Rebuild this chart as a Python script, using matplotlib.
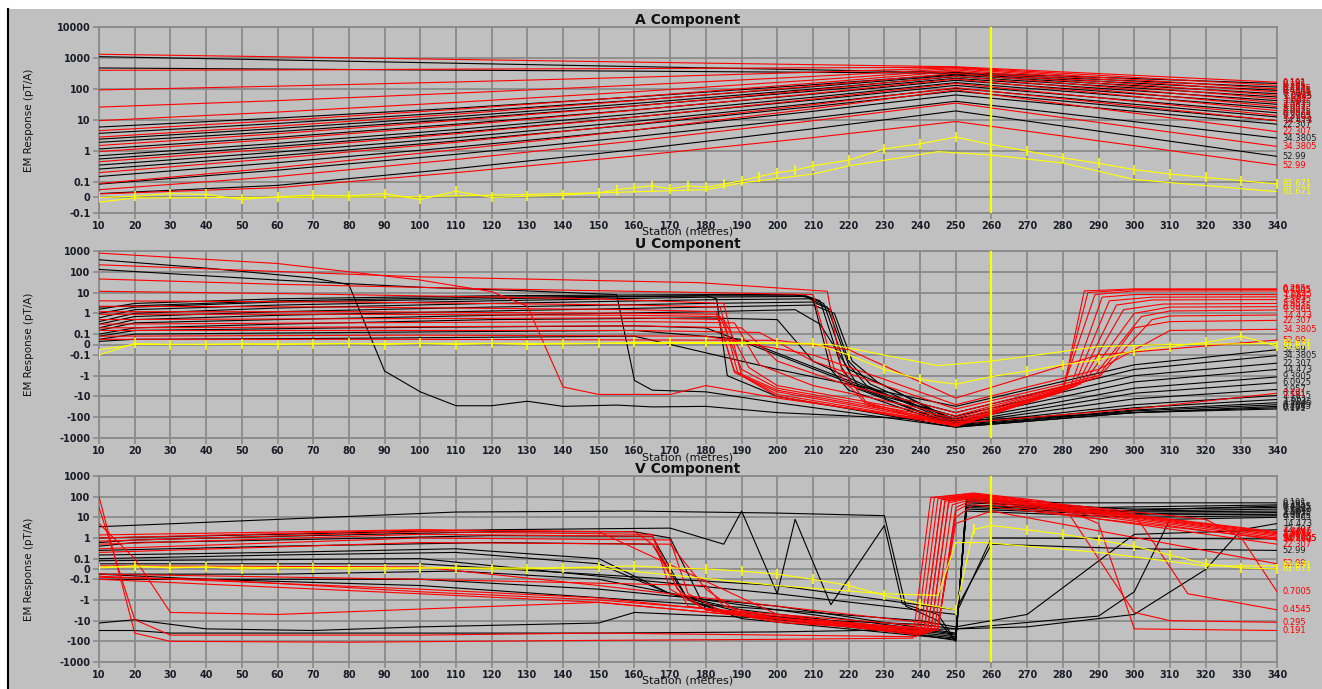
import matplotlib
matplotlib.use('Agg')
import matplotlib.pyplot as plt
from matplotlib.ticker import FixedLocator, NullLocator
from matplotlib.lines import Line2D
from matplotlib.patches import Rectangle

plt.rcParams['font.family'] = ['DejaVu Sans']

# channel names (shown at the right end of each line)
CH = ['0.191', '0.295', '0.4545', '0.7005', '1.0845', '1.661', '2.5815', '3.957',
      '6.0925', '9.3905', '14.473', '22.307', '34.3805', '52.99']
LAST_CH = '81.671'

# ---------------- A component ----------------
A_X = [10, 60, 110, 160, 210, 250, 300, 340]
A_RED = [
    [1316, 1090, 895, 735, 607, 520, 275, 165],
    [400, 410, 435, 455, 480, 500, 237, 130],
    [93, 123, 168, 237, 346, 480, 201, 100],
    [26, 42, 73, 132, 254, 450, 172, 80],
    [9.5, 18, 37, 81, 193, 410, 143, 62],
    [4.5, 9.5, 22, 56, 153, 370, 119, 48],
    [2.8, 6.3, 15.4, 42, 124, 320, 95, 36],
    [1.5, 3.6, 9.6, 28, 93, 260, 74, 27],
    [0.95, 2.4, 6.6, 20.6, 71, 210, 57, 20],
    [0.45, 1.2, 3.6, 12.3, 47, 150, 40, 14],
    [0.2, 0.58, 1.9, 7.3, 31, 110, 28, 9.5],
    [0.09, 0.29, 1.1, 4.7, 23, 93, 16.6, 4.2],
    [0.05, 0.15, 0.53, 2.1, 9.4, 35, 5.8, 1.4],
    [0.023, 0.063, 0.2, 0.69, 2.7, 8.9, 1.48, 0.35],
]
A_BLACK = [
    [1100, 864, 674, 528, 413, 340, 216, 150],
    [475, 437, 403, 375, 345, 320, 181, 115],
    [5.9, 11.5, 24, 55, 137, 300, 154, 90],
    [3.7, 7.7, 17.6, 43, 118, 280, 129, 70],
    [2.4, 5.3, 12.8, 34, 99, 250, 108, 55],
    [1.9, 4.2, 10.5, 28.5, 85, 220, 88, 42],
    [1.16, 2.75, 7.3, 21, 68, 190, 70, 32],
    [0.7, 1.76, 4.9, 15.5, 54, 160, 56, 24],
    [0.55, 1.4, 3.9, 12.4, 44, 130, 42, 17],
    [0.35, 0.92, 2.7, 9.0, 34, 105, 32, 12.5],
    [0.26, 0.7, 2.1, 7.0, 27, 85, 25, 9.5],
    [0.15, 0.42, 1.33, 4.7, 19, 64, 19, 7.3],
    [0.086, 0.24, 0.78, 2.9, 11.7, 40, 8.8, 2.6],
    [0.025, 0.078, 0.27, 1.1, 5.2, 19.5, 3.0, 0.67],
]
A_YEL_RED_X = [10, 20, 50, 100, 150, 180, 190, 210, 220, 230, 245, 260, 270, 280, 300, 340]
A_YEL_RED = [-0.03, -0.003, 0.0, 0.005, 0.03, 0.05, 0.094, 0.18, 0.33, 0.5, 0.95, 0.74, 0.55,
             0.41, 0.12, 0.0375]
A_YEL_BLK_X = [10, 20, 30, 40, 50, 60, 70, 80, 90, 100, 110, 120, 130, 140, 150, 155, 160,
               165, 170, 175, 180, 185, 190, 195, 200, 205, 210, 220, 230, 240, 250, 260, 270,
               280, 290, 300, 310, 320, 330, 340]
A_YEL_BLK = [0.0, 0.008, 0.025, 0.02, -0.013, 0.005, 0.015, 0.01, 0.025, -0.013, 0.04, 0.0,
             0.008, 0.015, 0.03, 0.05, 0.064, 0.075, 0.056, 0.075, 0.065, 0.087, 0.11, 0.15,
             0.2, 0.24, 0.33, 0.51, 1.16, 1.7, 2.8, 1.6, 1.0, 0.6, 0.4, 0.25, 0.18, 0.14,
             0.11, 0.087]

# ---------------- U component ----------------
U_RED_X = [
    [10, 60, 100, 120, 130, 140, 150, 170, 180, 200, 250, 300, 340],
    [10, 100, 178, 214, 218, 225, 250, 280, 286, 300, 340],
    [10, 60, 120, 180, 210, 216, 225, 250, 280, 287, 300, 340],
    [10, 60, 150, 185, 190, 200, 250, 280, 289, 300, 340],
    [10, 80, 160, 184, 189, 200, 250, 282, 291, 300, 340],
    [10, 80, 160, 183, 188, 200, 250, 283, 293, 305, 340],
    [10, 80, 160, 183, 188, 200, 250, 284, 295, 305, 340],
    [10, 80, 160, 184, 190, 200, 250, 285, 297, 308, 340],
    [10, 80, 160, 185, 192, 200, 250, 286, 300, 310, 340],
    [10, 80, 160, 188, 195, 210, 250, 288, 302, 310, 340],
    [10, 80, 160, 190, 200, 220, 250, 290, 305, 310, 340],
    [10, 80, 160, 195, 210, 230, 250, 290, 300, 310, 340],
    [10, 100, 180, 210, 230, 250, 290, 310, 340],
    [10, 100, 200, 220, 250, 290, 340],
]
U_RED_Y = [
    [790, 250, 40, 11, 2.2, -3.5, -8, -8, -3, -12, -200, -40, -7],
    [217, 57, 30, 11.5, -0.5, -20, -250, -6, 12, 15, 15],
    [45, 25, 15, 10, 8, -0.5, -25, -280, -5, 10, 14, 14],
    [11.5, 9, 5, 3, -1, -10, -260, -4, 8, 12, 12],
    [4, 3.5, 2.5, 2, -0.8, -8, -230, -4, 6, 8, 8],
    [2.2, 2, 1.5, 1.2, -0.7, -6, -200, -3.5, 4, 6, 6.2],
    [1.2, 1.2, 1, 0.9, -0.6, -5, -170, -3, 2.5, 4.4, 4.6],
    [0.9, 0.9, 0.8, 0.7, -0.5, -4, -140, -2.5, 1.5, 2.8, 3.0],
    [0.5, 0.55, 0.6, 0.5, -0.4, -3, -110, -2, 1, 2, 2.1],
    [0.3, 0.35, 0.4, 0.35, -0.3, -3, -85, -1.5, 0.7, 1.3, 1.45],
    [0.2, 0.22, 0.25, 0.2, -0.2, -3, -60, -1.2, 0.5, 0.75, 0.83],
    [0.15, 0.15, 0.15, 0.12, -0.2, -3, -40, -1, 0.2, 0.4, 0.46],
    [0.08, 0.09, 0.08, -0.1, -1.5, -25, -0.5, 0.15, 0.17],
    [0.05, 0.05, 0.04, -0.05, -12, -0.1, 0.043],
]
U_BLK_X = [
    [10, 40, 70, 80, 90, 100, 110, 120, 130, 140, 155, 165, 180, 200, 250, 300, 340],
    [10, 60, 100, 130, 155, 160, 165, 180, 200, 250, 300, 340],
    [10, 60, 120, 180, 183, 186, 200, 250, 300, 340],
    [10, 20, 60, 120, 180, 205, 210, 215, 220, 250, 300, 340],
    [10, 20, 60, 120, 180, 208, 212, 218, 222, 250, 300, 340],
    [10, 20, 60, 120, 180, 208, 213, 219, 223, 250, 300, 340],
    [10, 20, 60, 120, 180, 209, 214, 220, 225, 250, 300, 340],
    [10, 20, 60, 120, 180, 210, 215, 220, 226, 250, 300, 340],
    [10, 20, 60, 120, 180, 210, 216, 221, 228, 250, 300, 340],
    [10, 20, 60, 120, 180, 205, 212, 220, 230, 250, 300, 340],
    [10, 20, 60, 120, 180, 200, 210, 230, 250, 300, 340],
    [10, 20, 80, 160, 180, 200, 230, 250, 300, 340],
    [10, 20, 80, 160, 190, 230, 250, 300, 340],
    [10, 20, 80, 160, 200, 250, 300, 340],
]
U_BLK_Y = [
    [380, 150, 50, 24, -0.6, -6, -28, -28, -17, -30, -26, -32, -30, -60, -150, -60, -40],
    [130, 40, 18, 12, 8, -1.7, -5, -6, -20, -300, -60, -35],
    [2.0, 4, 6, 7, 5, -1, -10, -300, -60, -30],
    [1.56, 3, 5, 7, 8, 8, 5, -0.5, -5, -280, -50, -25],
    [1.0, 2.0, 3.5, 5, 7, 7, 4, -0.4, -4, -260, -45, -20],
    [0.6, 1.5, 2.5, 4, 6, 6.5, 3, -0.3, -4, -240, -35, -14],
    [0.4, 1.0, 1.8, 3, 4.5, 5, 2, -0.3, -3, -220, -25, -9],
    [0.3, 0.7, 1.2, 2, 3, 3.5, 1.5, -0.2, -2.5, -200, -13, -4.6],
    [0.2, 0.5, 0.8, 1.3, 2, 2.5, 1, -0.2, -2, -180, -7, -2.2],
    [0.15, 0.35, 0.5, 0.8, 1.2, 1.5, 0.3, -0.5, -3, -150, -4, -1.15],
    [0.1, 0.2, 0.3, 0.5, 0.6, 0.5, -0.2, -8, -120, -2, -0.5],
    [0.08, 0.15, 0.2, 0.25, 0.2, -0.1, -10, -90, -1, -0.25],
    [0.05, 0.1, 0.12, 0.15, 0.05, -8, -60, -0.5, -0.108],
    [0.03, 0.05, 0.06, 0.08, -0.5, -30, -0.3, -0.05],
]
U_YEL_RED_X = [10, 20, 100, 200, 215, 245, 260, 290, 310, 340]
U_YEL_RED = [-0.05, 0.0, 0.01, 0.01, 0.0, -0.33, -0.2, -0.02, 0.0, 0.01]
U_YEL_BLK_X = [10, 20, 30, 40, 50, 60, 70, 80, 90, 100, 110, 120, 130, 140, 150, 160, 170,
               180, 190, 200, 210, 220, 230, 240, 250, 260, 270, 280, 290, 300, 310, 320, 330, 340]
U_YEL_BLK = [-0.1, 0.01, 0.0, 0.0, 0.005, 0.0, 0.005, 0.01, 0.0, 0.01, 0.0, 0.01, 0.0, 0.005,
             0.01, 0.02, 0.02, 0.02, 0.02, 0.015, 0.01, -0.1, -0.5, -1.5, -2.6, -1.1, -0.6,
             -0.3, -0.17, -0.06, -0.02, 0.02, 0.08, -0.015]

# ---------------- V component ----------------
V_RED_X = [
    [10, 20, 30, 80, 150, 200, 238, 243, 255, 275, 290, 300, 340],
    [10, 20, 30, 100, 150, 200, 239, 244, 255, 280, 300, 310, 340],
    [10, 20, 30, 60, 150, 200, 240, 245, 255, 300, 315, 340],
    [10, 100, 150, 200, 241, 246, 255, 320, 330, 340],
    [10, 100, 160, 165, 175, 200, 241, 246, 255, 340],
    [10, 100, 165, 170, 180, 200, 242, 247, 255, 340],
    [10, 100, 165, 172, 180, 200, 242, 247, 255, 340],
    [10, 100, 170, 175, 185, 200, 243, 248, 255, 340],
    [10, 100, 170, 180, 190, 243, 248, 255, 340],
    [10, 100, 180, 185, 200, 244, 249, 255, 340],
    [10, 100, 150, 200, 245, 250, 255, 340],
    [10, 100, 150, 200, 245, 250, 255, 340],
    [10, 40, 100, 150, 200, 245, 250, 255, 340],
    [10, 100, 150, 200, 245, 250, 260, 340],
]
V_RED_Y = [
    [100, -40, -100, -110, -90, -80, -70, 90, 150, 60, 5, -25, -30],
    [30, -9, -50, -50, -40, -50, -60, 90, 140, 40, -4, -10, -12],
    [5, 0.1, -4, -5, -1.3, -8, -50, 80, 130, 15, -0.5, -3],
    [1.4, 2.5, 2.0, -5, -45, 80, 120, 8, 1, -0.4],
    [1.0, 2.4, 2, 0.5, -2, -8, -45, 70, 110, 2.0],
    [0.7, 2.0, 1.5, -0.3, -3, -8, -40, 70, 105, 1.8],
    [0.5, 1.5, 1.2, -0.3, -3, -10, -40, 60, 100, 1.6],
    [0.3, 1.0, 0.8, -0.5, -4, -12, -35, 60, 95, 1.4],
    [0.2, 0.6, 0.5, -0.3, -5, -35, 50, 90, 1.2],
    [-0.05, -0.1, -0.2, -2, -8, -30, 40, 80, 1.0],
    [-0.07, -0.3, -0.8, -6, -30, 30, 70, 0.8],
    [-0.1, -0.5, -1.3, -8, -25, 20, 60, 0.5],
    [-0.08, -0.1, -0.4, -1, -5, -20, 10, 40, 0.9],
    [0.03, 0.02, -0.2, -2, -15, 5, 20, 0.05],
]
V_BLK_X = [
    [10, 110, 160, 200, 230, 236, 245, 250, 253, 280, 340],
    [10, 60, 120, 170, 185, 190, 200, 205, 215, 230, 235, 245, 250, 253, 290, 340],
    [10, 20, 60, 120, 160, 170, 180, 190, 195, 210, 250, 253, 290, 340],
    [10, 20, 60, 120, 165, 175, 190, 250, 253, 300, 340],
    [10, 60, 120, 165, 175, 190, 250, 253, 300, 340],
    [10, 60, 110, 150, 170, 190, 250, 253, 300, 340],
    [10, 60, 110, 150, 170, 190, 250, 253, 300, 340],
    [10, 60, 110, 150, 180, 200, 250, 253, 300, 340],
    [10, 100, 150, 200, 250, 253, 300, 340],
    [10, 20, 40, 70, 100, 150, 160, 200, 240, 250, 290, 300, 310, 340],
    [10, 20, 30, 70, 150, 200, 250, 270, 300, 320, 330, 340],
    [10, 40, 100, 200, 240, 250, 270, 300, 340],
    [10, 100, 200, 250, 260, 340],
    [10, 100, 200, 250, 260, 300, 340],
]
V_BLK_Y = [
    [3.5, 18, 20, 16, 12, -2, -10, -100, 80, 50, 50],
    [1.0, 1.5, 2.5, 3, 0.5, 20, -0.5, 8, -1.7, 4, -1.5, -5, -100, 70, 30, 40],
    [0.6, 0.8, 1.2, 2, 2, 1, -3, -5, -6, -8, -90, 60, 20, 35],
    [0.4, 0.6, 0.8, 1.3, 1.2, -1, -8, -80, 50, 25, 30],
    [0.25, 0.4, 0.6, 0.5, -1, -6, -70, 40, 20, 25],
    [0.15, 0.2, 0.3, 0.1, -0.5, -4, -60, 35, 18, 20],
    [0.1, 0.15, 0.2, 0.05, -0.5, -3, -50, 30, 15, 17],
    [-0.05, -0.05, -0.02, -0.1, -1, -3, -45, 25, 13, 14],
    [-0.1, -0.1, -0.3, -2, -40, 20, 10, 12],
    [-13, -9, -25, -30, -20, -13, -4, -8, -15, -25, -6, -0.4, 8, 10],
    [-30, -30, -40, -40, -40, -35, -25, -20, -5, -0.005, 2.5, 5],
    [-0.05, -0.1, -0.2, -3, -10, -20, -5, 1.5, 2.5],
    [0.08, 0.1, -0.5, -5, 1, 0.9],
    [0.05, 0.05, -0.2, -3, 0.5, 0.3, 0.25],
]
V_YEL_RED_X = [10, 20, 100, 150, 200, 230, 245, 250, 258, 290, 320, 340]
V_YEL_RED = [0.02, 0.02, 0.01, 0.01, -0.2, -0.5, -0.6, 0.6, 0.6, 0.2, 0.03, 0.03]
V_YEL_BLK_X = [10, 20, 30, 40, 50, 60, 70, 80, 90, 100, 110, 120, 130, 140, 150, 160, 170,
               180, 190, 200, 210, 220, 230, 240, 250, 255, 260, 270, 280, 290, 300, 310,
               320, 330, 340]
V_YEL_BLK = [0.01, 0.03, 0.01, 0.02, 0.0, 0.01, 0.01, 0.0, 0.0, 0.01, 0.01, 0.0, 0.0, 0.01,
             0.02, 0.03, 0.01, 0.0, -0.02, -0.05, -0.1, -0.2, -0.6, -1.5, -3, 2.6, 4, 2.5,
             1.5, 0.8, 0.4, 0.15, 0.05, 0.01, 0.0]

A_TICKS = [-0.1, 0, 0.1, 1, 10, 100, 1000, 10000]
A_TICKLABELS = ['-0.1', '0', '0.1', '1', '10', '100', '1000', '10000']
UV_TICKS = [-1000, -100, -10, -1, -0.1, 0, 0.1, 1, 10, 100, 1000]
UV_TICKLABELS = ['-1000', '-100', '-10', '-1', '-0.1', '0', '0.1', '1', '10', '100', '1000']
STATIONS = list(range(10, 341, 10))
CURSOR = 260

BG = '#c0c0c0'
GRID = '#8a8a8a'
RED = '#ff0000'
BLK = '#000000'
YEL = '#ffff00'


def draw_lines(ax, xs, ys, color, names, label_color):
    for x, y, name in zip(xs, ys, names):
        ax.plot(x, y, color=color, lw=0.8, zorder=3)
        ax.text(341.6, y[-1], name, color=label_color, fontsize=6, va='center',
                ha='left', clip_on=False)


def setup(ax, title, ticks, labels, ylim):
    ax.set_facecolor(BG)
    ax.set_yscale('symlog', linthresh=0.1, linscale=0.45)
    ax.set_ylim(*ylim)
    ax.set_xlim(10, 340)
    ax.yaxis.set_major_locator(FixedLocator(ticks))
    ax.yaxis.set_minor_locator(NullLocator())
    ax.set_yticklabels(labels)
    ax.set_xticks(STATIONS)
    ax.set_xticklabels([str(s) for s in STATIONS])
    ax.grid(True, color=GRID, lw=1.3, zorder=0)
    ax.set_axisbelow(True)
    for s in ax.spines.values():
        s.set_color(GRID)
        s.set_linewidth(1.3)
    ax.tick_params(axis='both', length=4, width=1.2, color=GRID, pad=2,
                   labelsize=7, labelcolor='#1c1c28')
    for t in ax.get_xticklabels() + ax.get_yticklabels():
        t.set_fontweight('bold')
    ax.set_title(title, fontsize=10, fontweight='bold', pad=2, color='#111111')
    ax.set_ylabel('EM Response (pT/A)', fontsize=7.5, color='#111111')
    ax.yaxis.set_label_coords(-0.055, 0.5)
    ax.set_xlabel('Station (metres)', fontsize=8, color='#111111')
    ax.xaxis.set_label_coords(0.5, -0.075)
    ax.axvline(CURSOR, color=YEL, lw=1.6, zorder=5)


fig = plt.figure(figsize=(13.22, 6.89), dpi=100, facecolor=BG)
fig.add_artist(Rectangle((0, 1 - 9 / 689), 1, 9 / 689, transform=fig.transFigure,
                         facecolor='white', edgecolor='none'))
fig.add_artist(Rectangle((0, 0), 7 / 1322, 1, transform=fig.transFigure,
                         facecolor='white', edgecolor='none'))
fig.add_artist(Line2D([7.5 / 1322, 7.5 / 1322], [0, 1 - 9 / 689], transform=fig.transFigure,
                      color='black', lw=1.5))

ax_a = fig.add_axes([0.0749, 0.6909, 0.8911, 0.2700])
ax_u = fig.add_axes([0.0749, 0.3643, 0.8911, 0.2714])
ax_v = fig.add_axes([0.0749, 0.0392, 0.8911, 0.2700])

# A component
setup(ax_a, 'A Component', A_TICKS, A_TICKLABELS, (-0.1, 10000))
draw_lines(ax_a, [A_X] * len(A_BLACK), A_BLACK, BLK, CH, '#202020')
draw_lines(ax_a, [A_X] * len(A_RED), A_RED, RED, CH, RED)
draw_lines(ax_a, [A_YEL_RED_X], [A_YEL_RED], YEL, [LAST_CH], YEL)
ax_a.plot(A_YEL_BLK_X, A_YEL_BLK, color=YEL, lw=0.8, marker='|', ms=7, mew=1.2, zorder=4)
ax_a.text(341.6, A_YEL_BLK[-1], LAST_CH, color=YEL, fontsize=6, va='center', ha='left',
          clip_on=False)

# U component
setup(ax_u, 'U Component', UV_TICKS, UV_TICKLABELS, (-1000, 1000))
draw_lines(ax_u, U_BLK_X, U_BLK_Y, BLK, CH, '#202020')
draw_lines(ax_u, U_RED_X, U_RED_Y, RED, CH, RED)
draw_lines(ax_u, [U_YEL_RED_X], [U_YEL_RED], YEL, [LAST_CH], YEL)
ax_u.plot(U_YEL_BLK_X, U_YEL_BLK, color=YEL, lw=0.8, marker='|', ms=7, mew=1.2, zorder=4)
ax_u.text(341.6, U_YEL_BLK[-1], LAST_CH, color=YEL, fontsize=6, va='center', ha='left',
          clip_on=False)

# V component
setup(ax_v, 'V Component', UV_TICKS, UV_TICKLABELS, (-1000, 1000))
draw_lines(ax_v, V_BLK_X, V_BLK_Y, BLK, CH, '#202020')
draw_lines(ax_v, V_RED_X, V_RED_Y, RED, CH, RED)
draw_lines(ax_v, [V_YEL_RED_X], [V_YEL_RED], YEL, [LAST_CH], YEL)
ax_v.plot(V_YEL_BLK_X, V_YEL_BLK, color=YEL, lw=0.8, marker='|', ms=7, mew=1.2, zorder=4)
ax_v.text(341.6, V_YEL_BLK[-1], LAST_CH, color=YEL, fontsize=6, va='center', ha='left',
          clip_on=False)

fig.savefig('out.png', dpi=100, facecolor=fig.get_facecolor())
